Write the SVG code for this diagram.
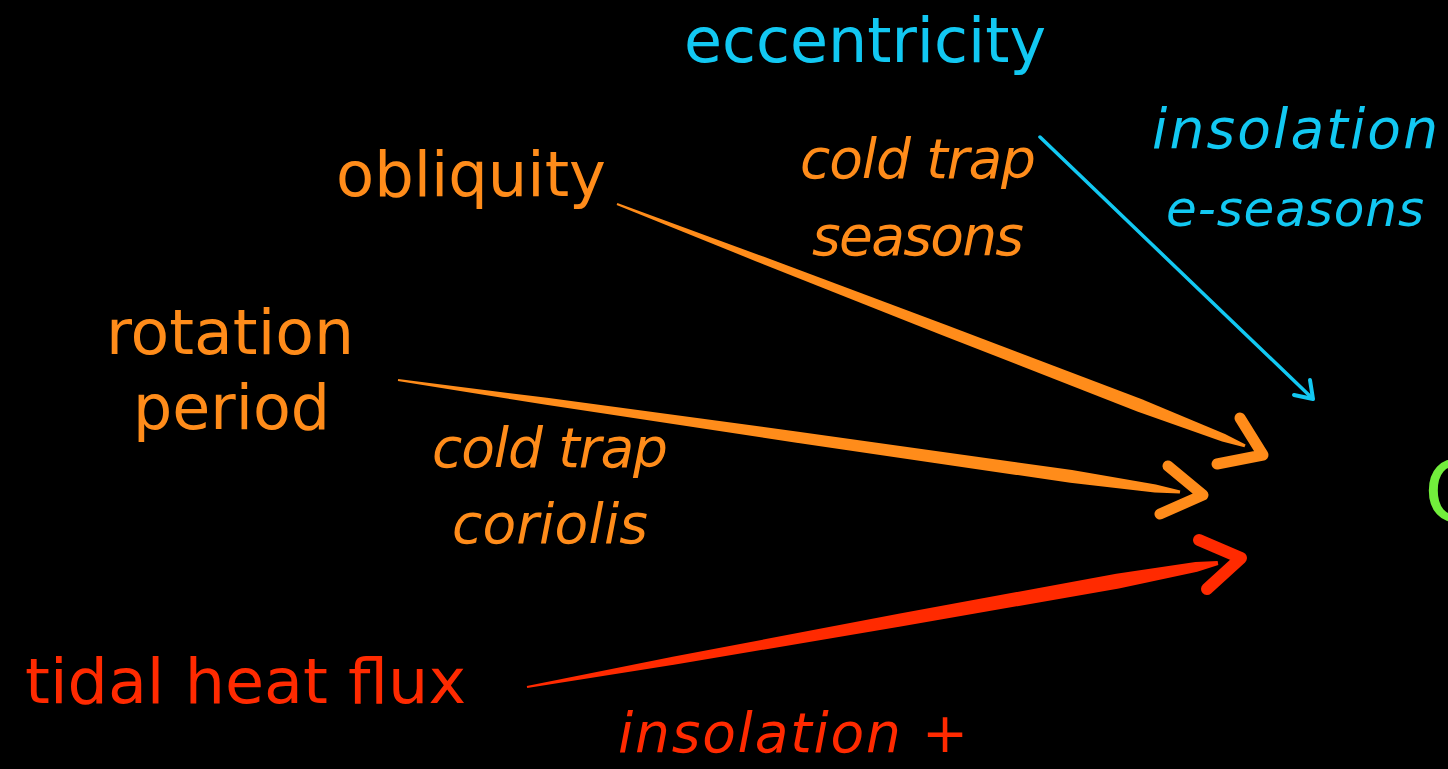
<svg xmlns="http://www.w3.org/2000/svg" width="1448" height="769" viewBox="0 0 1448 769">
<style>
.lbl{font-family:"DejaVu Sans",Verdana,sans-serif;font-size:63px}
.hand{font-family:"DejaVu Sans",sans-serif;font-style:italic;font-size:55px}
.or{fill:#FF8C1A}.cy{fill:#12C8F2}.rd{fill:#FF2A00}.gr{fill:#72EE3C}
.chev{fill:none;stroke-linecap:round;stroke-linejoin:round}
</style>
<rect width="1448" height="769" fill="#000"/>
<g id="eccentricity"><text class="lbl cy" x="684" y="62" textLength="362" lengthAdjust="spacingAndGlyphs">eccentricity</text></g>
<g id="obliquity"><text class="lbl or" x="336" y="196" textLength="270" lengthAdjust="spacingAndGlyphs">obliquity</text></g>
<g id="rotation-period"><text class="lbl or" x="106" y="354" textLength="248" lengthAdjust="spacingAndGlyphs">rotation</text><text class="lbl or" x="133" y="429" textLength="197" lengthAdjust="spacingAndGlyphs">period</text></g>
<g id="tidal-heat-flux"><text class="lbl rd" x="25" y="703" textLength="441" lengthAdjust="spacingAndGlyphs">tidal heat flux</text></g>
<g id="target"><text class="gr" x="1424" y="522" style="font-family:'DejaVu Sans',sans-serif;font-size:86px">C</text></g>
<g id="connectors">
<polygon class="or" transform="translate(617,204) rotate(21.07)" points="0,-1 150,-3.5 350,-5.5 560,-6.5 650,-4 673,-1.5 673,1.5 650,4 560,6.5 350,5.5 150,3.5 0,1"/>
<polyline class="chev" stroke="#FF8C1A" stroke-width="11" points="1240,418 1263,455 1217,464"/>
<polygon class="or" transform="translate(398,380) rotate(8.15)" points="0,-1 150,-3.5 400,-5.5 680,-6.5 765,-4 790,-1.5 790,1.5 765,4 680,6.5 400,5.5 150,3.5 0,1"/>
<polyline class="chev" stroke="#FF8C1A" stroke-width="11" points="1168,466 1203,495 1160,514"/>
<polygon class="rd" transform="translate(527,687) rotate(-10.17)" points="0,-1 150,-4 380,-6.5 600,-7.5 680,-5 702,-2 702,2 680,5 600,7.5 380,6.5 150,4 0,1"/>
<polyline class="chev" stroke="#FF2A00" stroke-width="12" points="1199,540 1241,558 1207,589"/>
<line x1="1040" y1="137" x2="1312" y2="398" stroke="#12C8F2" stroke-width="3.5" stroke-linecap="round"/>
<polyline class="chev" stroke="#12C8F2" stroke-width="4" points="1294,395 1313,399 1310,380"/>
</g>
<g id="labels">
<text class="hand or" x="800" y="178" textLength="236" lengthAdjust="spacing">cold trap</text>
<text class="hand or" x="812" y="255" textLength="212" lengthAdjust="spacing">seasons</text>
<text class="hand or" x="432" y="467" textLength="236" lengthAdjust="spacing">cold trap</text>
<text class="hand or" x="452" y="543" textLength="196" lengthAdjust="spacing">coriolis</text>
<text class="hand cy" x="1152" y="148" textLength="286" lengthAdjust="spacing">insolation</text>
<text class="hand cy" x="1166" y="226" textLength="258" lengthAdjust="spacing" style="font-size:50px">e-seasons</text>
<text class="hand rd" x="618" y="752" textLength="350" lengthAdjust="spacing">insolation +</text>
</g>
</svg>
